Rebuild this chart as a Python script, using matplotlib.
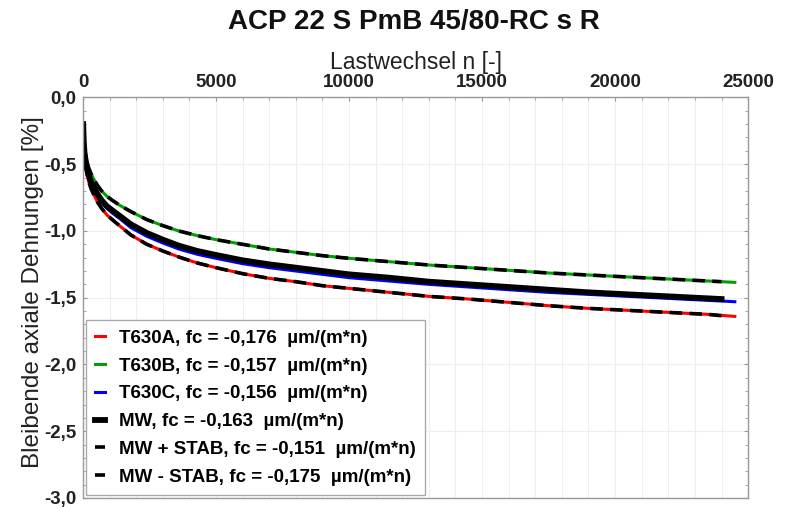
import matplotlib
matplotlib.use("Agg")
import matplotlib.pyplot as plt
from matplotlib.ticker import MultipleLocator, FuncFormatter

plt.rcParams['font.family'] = ['Liberation Sans', 'DejaVu Sans']

title = "ACP 22 S PmB 45/80-RC s R"
xlabel = "Lastwechsel n [-]"
ylabel = "Bleibende axiale Dehnungen [%]"

n_full = [10, 30, 60, 100, 150, 200, 300, 400, 550, 700, 900, 1100, 1400, 1800,
          2400, 3000, 3600, 4300, 5000, 6000, 7000, 8000, 9000, 10000, 11500,
          13000, 14500, 16000, 17500, 19000, 20500, 22000, 23500, 24500]
n_mw = [10, 30, 60, 100, 150, 200, 300, 400, 550, 700, 900, 1100, 1400, 1800,
        2400, 3000, 3600, 4300, 5000, 6000, 7000, 8000, 9000, 10000, 11500,
        13000, 14500, 16000, 17500, 19000, 20500, 22000, 23500, 24000]

t630b = [-0.20, -0.31, -0.38, -0.43, -0.48, -0.52, -0.57, -0.61, -0.66, -0.70,
         -0.74, -0.77, -0.81, -0.855, -0.915, -0.96, -1.00, -1.035, -1.065, -1.10,
         -1.135, -1.16, -1.185, -1.205, -1.23, -1.255, -1.275, -1.295, -1.315,
         -1.33, -1.345, -1.36, -1.375, -1.385]
mw = [-0.20, -0.33, -0.42, -0.47, -0.53, -0.57, -0.63, -0.67, -0.725, -0.77,
      -0.815, -0.845, -0.89, -0.95, -1.015, -1.065, -1.11, -1.15, -1.18, -1.22,
      -1.25, -1.275, -1.30, -1.325, -1.35, -1.38, -1.40, -1.42, -1.44, -1.46,
      -1.475, -1.49, -1.505, -1.51]
t630c = [-0.20, -0.34, -0.43, -0.48, -0.54, -0.58, -0.64, -0.685, -0.74, -0.785,
         -0.83, -0.865, -0.91, -0.975, -1.04, -1.09, -1.135, -1.175, -1.205, -1.245,
         -1.275, -1.30, -1.325, -1.35, -1.375, -1.40, -1.42, -1.44, -1.46, -1.475,
         -1.49, -1.505, -1.52, -1.53]
t630a = [-0.20, -0.36, -0.45, -0.51, -0.57, -0.62, -0.68, -0.725, -0.785, -0.83,
         -0.88, -0.915, -0.965, -1.03, -1.10, -1.15, -1.195, -1.24, -1.275, -1.32,
         -1.355, -1.38, -1.41, -1.43, -1.46, -1.49, -1.51, -1.535, -1.56, -1.58,
         -1.595, -1.61, -1.625, -1.64]
mw_plus = [-0.20, -0.31, -0.38, -0.43, -0.48, -0.52, -0.57, -0.61, -0.66, -0.70,
           -0.74, -0.77, -0.81, -0.855, -0.915, -0.96, -1.00, -1.035, -1.065, -1.10,
           -1.135, -1.16, -1.185, -1.205, -1.23, -1.255, -1.275, -1.295, -1.315,
           -1.33, -1.345, -1.36, -1.375, -1.38]
mw_minus = [-0.20, -0.36, -0.45, -0.51, -0.57, -0.62, -0.68, -0.725, -0.785, -0.83,
            -0.88, -0.915, -0.965, -1.03, -1.10, -1.15, -1.195, -1.24, -1.275, -1.32,
            -1.355, -1.38, -1.41, -1.43, -1.46, -1.49, -1.51, -1.535, -1.56, -1.58,
            -1.595, -1.61, -1.625, -1.635]

labels = ["T630A, fc = -0,176  µm/(m*n)",
          "T630B, fc = -0,157  µm/(m*n)",
          "T630C, fc = -0,156  µm/(m*n)",
          "MW, fc = -0,163  µm/(m*n)",
          "MW + STAB, fc = -0,151  µm/(m*n)",
          "MW - STAB, fc = -0,175  µm/(m*n)"]

fig = plt.figure(figsize=(7.9, 5.07), dpi=100)
ax = fig.add_axes([0.105, 0.0178, 0.842, 0.79])

l1, = ax.plot(n_full, t630a, color='#ff0000', lw=2.2, label=labels[0])
l2, = ax.plot(n_full, t630b, color='#00a000', lw=2.2, label=labels[1])
l3, = ax.plot(n_full, t630c, color='#0000ff', lw=2.2, label=labels[2])
l4, = ax.plot(n_mw, mw, color='black', lw=4.2, label=labels[3])
l5, = ax.plot(n_mw, mw_plus, color='black', lw=2.6, ls=(0, (3.5, 2.0)), label=labels[4])
l6, = ax.plot(n_mw, mw_minus, color='black', lw=2.6, ls=(0, (3.5, 2.0)), label=labels[5])

ax.set_xlim(0, 25000)
ax.set_ylim(-3.0, 0.0)
ax.xaxis.tick_top()
ax.xaxis.set_label_position('top')
ax.xaxis.set_major_locator(MultipleLocator(5000))
ax.xaxis.set_minor_locator(MultipleLocator(1000))
ax.yaxis.set_major_locator(MultipleLocator(0.5))
ax.yaxis.set_minor_locator(MultipleLocator(0.1))
ax.yaxis.set_major_formatter(FuncFormatter(lambda v, p: f"{v:.1f}".replace('.', ',').replace('-0,0', '0,0')))
ax.tick_params(which='both', direction='in', top=True, right=True, bottom=False,
               colors='#999999', labelcolor='#222222')
ax.tick_params(which='major', length=3, labelsize=13.5, pad=5)
ax.tick_params(which='minor', length=2)
for lab in ax.get_xticklabels() + ax.get_yticklabels():
    lab.set_fontweight('bold')
ax.grid(which='major', axis='y', color='#eeeeee', lw=0.8)
ax.grid(which='both', axis='x', color='#eeeeee', lw=0.8)
ax.set_axisbelow(True)
for s in ax.spines.values():
    s.set_color('#999999')
    s.set_linewidth(1.0)

ax.set_xlabel(xlabel, fontsize=16.5, color='#222222')
ax.xaxis.set_label_coords(0.5, 1.07)
ax.set_ylabel(ylabel, fontsize=17.5, color='#222222')
ax.yaxis.set_label_coords(-0.058, 0.515)
fig.suptitle(title, fontsize=20, fontweight='bold', x=0.524, y=0.982, color='#111111')

leg = ax.legend(handles=[l1, l2, l3, l4, l5, l6], loc='lower left',
                bbox_to_anchor=(0.0, 0.0), borderaxespad=0.15, handlelength=0.55,
                handletextpad=0.7, labelspacing=0.57, borderpad=0.5,
                fancybox=False, framealpha=1, edgecolor='#aaaaaa',
                prop={'weight': 'bold', 'size': 13.5})
leg.get_frame().set_linewidth(1.0)

fig.savefig("out.png", dpi=100)
